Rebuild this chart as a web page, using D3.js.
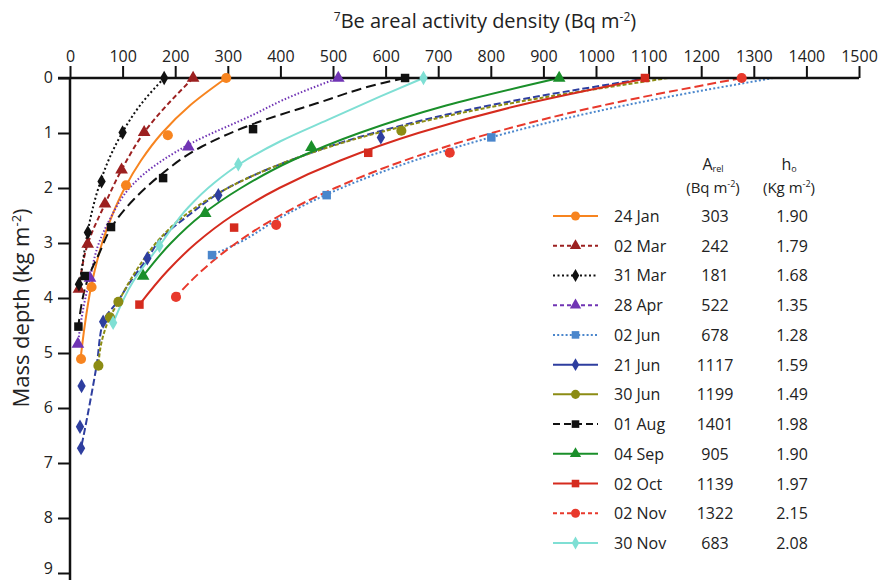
<!DOCTYPE html>
<html><head><meta charset="utf-8">
<script src="https://cdn.jsdelivr.net/npm/d3@7"></script>
<style>
html,body{margin:0;padding:0;background:#fff;}
svg text{font-family:"Open Sans",sans-serif;fill:#222;}
</style></head>
<body><svg id="c" width="881" height="580"></svg>
<script>
// ---------- data ----------
const labels = ["24 Jan","02 Mar","31 Mar","28 Apr","02 Jun","21 Jun","30 Jun","01 Aug","04 Sep","02 Oct","02 Nov","30 Nov"];
const aRel = ["303","242","181","522","678","1117","1199","1401","905","1139","1322","683"];
const hZero = ["1.90","1.79","1.68","1.35","1.28","1.59","1.49","1.98","1.90","1.97","2.15","2.08"];
const colors = ["#f7841f","#9c2020","#111111","#7034b4","#4a86cc","#2e3e9f","#8c8c14","#111111","#1a8f2a","#d52b1e","#e8392c","#7fdfd4"];
const markers = ["circle","triangle","diamond","triangle","square","diamond","circle","square","triangle","square","circle","diamond"];
const plotDash = ["none","5,3","2,2.5","1.5,2","2,2.2","7,3","4,2","10,5","none","none","9,4","none"];
const legendDash = ["none","4,3","2,2.5","4,3","2,2.2","none","none","7,4","none","none","4,3","none"];
const xTicks = [0,100,200,300,400,500,600,700,800,900,1000,1100,1200,1300,1400,1500];
const yTicks = [0,1,2,3,4,5,6,7,8,9];

// observed points [activity, mass depth]
const observed = [
  [[297,0],[186,1.04],[106.5,1.95],[41,3.8],[21,5.11]],
  [[234,0],[141,0.99],[98,1.67],[66.5,2.29],[33.6,3.02],[17,3.84]],
  [[179,0],[100,0.99],[60,1.88],[34,2.81],[17,3.75]],
  [[510,0],[225,1.25],[38,3.64],[15,4.84]],
  [[801,1.08],[488,2.13],[270,3.22]],
  [[591,1.08],[282,2.13],[147,3.28],[63,4.43],[22,5.6],[19,6.34],[21,6.73]],
  [[630,0.96],[92,4.07],[76,4.35],[54,5.23]],
  [[637,0],[348,0.93],[177,1.82],[78,2.71],[28,3.6],[16,4.52]],
  [[930,0],[459,1.26],[257,2.46],[139,3.6]],
  [[1093,0],[567,1.36],[312,2.72],[132,4.12]],
  [[1277,0],[722,1.36],[392,2.67],[201.5,3.98]],
  [[672,0],[320,1.57],[170,3.05],[82,4.45]]
];
// fitted profile curves [activity, mass depth]
const fitted = [
  [[297,0],[228,0.5],[175,1],[135,1.5],[104,2],[80,2.5],[61,3],[47,3.5],[40,3.8],[28,4.5],[20,5.11]],
  [[234,0],[141,0.99],[98,1.67],[66.5,2.29],[33.6,3.02],[17,3.84]],
  [[179,0],[133,0.5],[99,1],[73,1.5],[54,2],[40,2.5],[30,3],[22,3.5],[18,3.75]],
  [[510,0],[405,0.4],[350,0.66],[228,1.2],[140,1.75],[118,1.95],[74,2.6],[55,3.0],[38,3.64],[25,4.2],[15,4.84]],
  [[1337,0],[1054,0.5],[831,1],[655,1.5],[516,2],[407,2.5],[320,3],[270,3.22]],
  [[1100,0],[797,0.5],[577,1],[418,1.5],[300,2],[225,2.5],[175,2.9],[147,3.28],[115,3.7],[90,4.07],[63,4.43],[51,5.2],[38,5.9],[28,6.4],[21,6.73]],
  [[1137,0],[815,0.5],[584,1],[418,1.5],[300,2],[218,2.5],[168,2.95],[140,3.3],[110,3.75],[92,4.07],[76,4.35],[60,4.8],[54,5.23]],
  [[637,0],[595,0.09],[469,0.46],[350,0.83],[250,1.25],[170,1.78],[122,2.2],[79,2.71],[55,3.2],[38,3.55],[16,4.5]],
  [[930,0],[715,0.5],[550,1],[422,1.5],[325,2],[249,2.5],[192,3],[139,3.6]],
  [[1100,0],[853,0.5],[662,1],[514,1.5],[398,2],[309,2.5],[240,3],[186,3.5],[132,4.12]],
  [[1277,0],[1012,0.5],[802,1],[636,1.5],[504,2],[399,2.5],[316,3],[251,3.5],[201,3.98]],
  [[672,0],[589,0.34],[490,0.76],[400,1.15],[325,1.55],[275,1.9],[225,2.35],[170,3.05],[120,3.7],[82,4.45]]
];

// ---------- layout ----------
const svg = d3.select("#c");
const x = d3.scaleLinear().domain([0,1500]).range([70,859]);
const y = d3.scaleLinear().domain([0,9]).range([78,573]);

const symType = {circle:d3.symbolCircle, triangle:d3.symbolTriangle, diamond:d3.symbolDiamond, square:d3.symbolSquare};
const symSize = {circle:80, triangle:70, diamond:60, square:72};

// curves
const line = d3.line().x(d=>x(d[0])).y(d=>y(d[1])).curve(d3.curveMonotoneY);
const gLines = svg.append("g");
fitted.forEach((pts,i)=>{
  gLines.append("path").attr("d",line(pts)).attr("fill","none")
    .attr("stroke",colors[i]).attr("stroke-width",2)
    .attr("stroke-dasharray",plotDash[i]==="none"?null:plotDash[i]);
});

// axes
const axTop = svg.append("g").attr("transform","translate(0,"+y(0)+")")
  .call(d3.axisTop(x).tickValues(xTicks).tickFormat(d3.format("d")).tickSize(12).tickPadding(4).tickSizeOuter(0));
axTop.select(".domain").attr("stroke","#111").attr("stroke-width",2.5).attr("d","M58,0H"+x(1500));
axTop.selectAll(".tick line").attr("stroke","#111").attr("stroke-width",2);
axTop.selectAll(".tick text").attr("font-size",16).attr("font-family","Open Sans").attr("fill","#222");

const axLeft = svg.append("g").attr("transform","translate("+x(0)+",0)")
  .call(d3.axisLeft(y).tickValues(yTicks).tickFormat(d3.format("d")).tickSize(12).tickPadding(5).tickSizeOuter(0));
axLeft.select(".domain").attr("stroke","#111").attr("stroke-width",2.5).attr("d","M0,"+y(0)+"V580");
axLeft.selectAll(".tick line").attr("stroke","#111").attr("stroke-width",2);
axLeft.selectAll(".tick text").attr("font-size",16).attr("font-family","Open Sans").attr("fill","#222")
  .attr("dy",d=>d===9?"0.05em":"0.28em");

// markers
const gMarks = svg.append("g");
observed.forEach((pts,i)=>{
  const s = d3.symbol().type(symType[markers[i]]).size(symSize[markers[i]]);
  pts.forEach(p=>{
    gMarks.append("path").attr("d",s()).attr("fill",colors[i])
      .attr("transform","translate("+x(p[0])+","+y(p[1])+")");
  });
});

// titles
const t = svg.append("text").attr("x",485).attr("y",28).attr("text-anchor","middle").attr("font-size",20);
t.append("tspan").text("7").attr("font-size",12).attr("dy",-7);
t.append("tspan").text("Be areal activity density (Bq m").attr("dy",7);
t.append("tspan").text("-2").attr("font-size",12).attr("dy",-7);
t.append("tspan").text(")").attr("dy",7);

const yl = svg.append("text").attr("transform","translate(29,308) rotate(-90)").attr("text-anchor","middle").attr("font-size",22);
yl.append("tspan").text("Mass depth (kg m");
yl.append("tspan").text("-2").attr("font-size",13).attr("dy",-8);
yl.append("tspan").text(")").attr("dy",8);

// legend header
const h1 = svg.append("text").attr("x",713).attr("y",170).attr("text-anchor","middle").attr("font-size",16);
h1.append("tspan").text("A");
h1.append("tspan").text("rel").attr("font-size",9).attr("dy",2);
const h2 = svg.append("text").attr("x",713).attr("y",193).attr("text-anchor","middle").attr("font-size",15);
h2.append("tspan").text("(Bq m");
h2.append("tspan").text("-2").attr("font-size",9).attr("dy",-6);
h2.append("tspan").text(")").attr("dy",6);
const h3 = svg.append("text").attr("x",789).attr("y",170).attr("text-anchor","middle").attr("font-size",16);
h3.append("tspan").text("h");
h3.append("tspan").text("o").attr("font-size",9).attr("dy",2);
const h4 = svg.append("text").attr("x",789).attr("y",193).attr("text-anchor","middle").attr("font-size",15);
h4.append("tspan").text("(Kg m");
h4.append("tspan").text("-2").attr("font-size",9).attr("dy",-6);
h4.append("tspan").text(")").attr("dy",6);

// legend rows
const rowY = d3.scaleLinear().domain([0,11]).range([216,543]);
labels.forEach((lab,i)=>{
  const cy = rowY(i);
  svg.append("line").attr("x1",553).attr("x2",598).attr("y1",cy).attr("y2",cy)
    .attr("stroke",colors[i]).attr("stroke-width",2)
    .attr("stroke-dasharray",legendDash[i]==="none"?null:legendDash[i]);
  const s = d3.symbol().type(symType[markers[i]]).size(symSize[markers[i]]*0.8);
  svg.append("path").attr("d",s()).attr("fill",colors[i]).attr("transform","translate(575.5,"+cy+")");
  svg.append("text").attr("x",614).attr("y",cy+6).attr("font-size",16).text(lab);
  svg.append("text").attr("x",715).attr("y",cy+6).attr("text-anchor","middle").attr("font-size",16).text(aRel[i]);
  svg.append("text").attr("x",792).attr("y",cy+6).attr("text-anchor","middle").attr("font-size",16).text(hZero[i]);
});
</script></body></html>
